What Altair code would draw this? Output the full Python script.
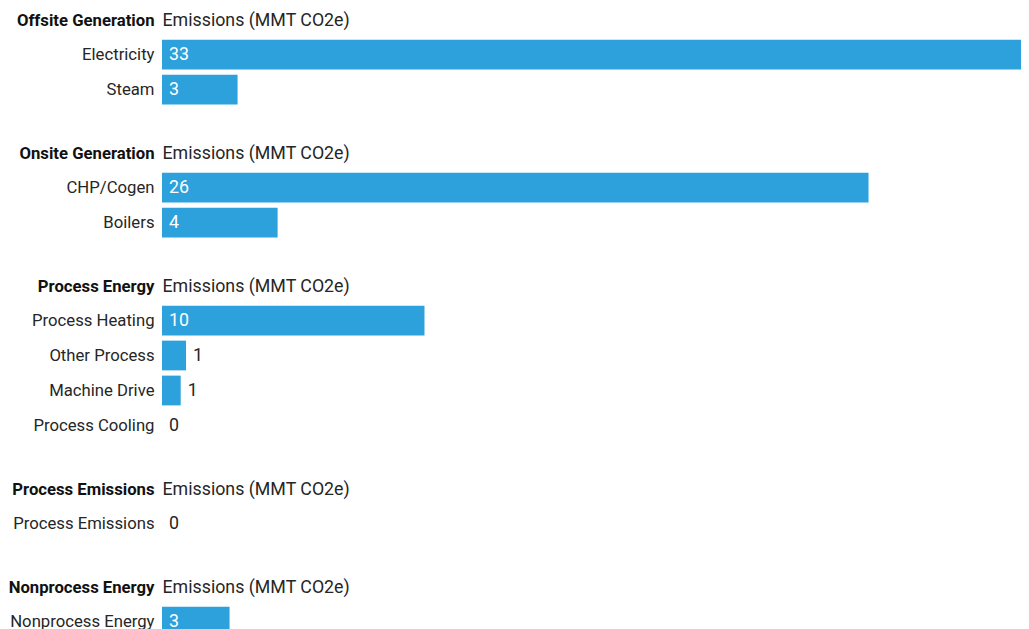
import altair as alt
import pandas as pd

groups = ["Offsite Generation", "Onsite Generation", "Process Energy",
          "Process Emissions", "Nonprocess Energy"]
group_items = [
    ["Electricity", "Steam"],
    ["CHP/Cogen", "Boilers"],
    ["Process Heating", "Other Process", "Machine Drive", "Process Cooling"],
    ["Process Emissions"],
    ["Nonprocess Energy"],
]
group_values = [
    [33.0, 2.83],
    [26.46, 4.33],
    [9.83, 0.90, 0.70, 0.0],
    [0.0],
    [2.53],
]
x_title = "Emissions (MMT CO2e)"
x_max = 32.17

FONT = "Roboto"
BAR = "#2ca1db"
LABEL = "#262626"
FS = 17.8
LFS = 16.7
HFS = 16.7


def panel(g, items, vals):
    df = pd.DataFrame({"item": items, "value": vals})
    base = alt.Chart(df)
    y_axis = alt.Axis(
        title=g, titleAngle=0, titleAlign="right", titleBaseline="middle",
        titleX=-8, titleY=-16.5, titleFontWeight="bold", titleFontSize=HFS,
        titleColor="#111111", titleFont=FONT,
        labelPadding=8, ticks=False, domain=False, labelFontSize=LFS,
        labelColor=LABEL, labelFont=FONT, labelLimit=300,
        minExtent=154, maxExtent=154,
    )
    y_scale = alt.Scale(paddingInner=0.15, paddingOuter=0.075)
    x_scale = alt.Scale(domain=[0, x_max], nice=False, zero=True)
    x_axis = alt.Axis(
        orient="top", title=x_title, labels=False, ticks=False,
        domain=False, grid=False, titleX=0, titleY=-16.5,
        titleAlign="left", titleBaseline="middle", titleAnchor="start",
        titleFontWeight="normal", titleFontSize=FS, titleColor=LABEL,
        titleFont=FONT)
    bars = base.mark_bar(color=BAR, clip=True).encode(
        x=alt.X("value:Q", scale=x_scale, axis=x_axis, title=x_title),
        y=alt.Y("item:N", sort=items, scale=y_scale, axis=y_axis, title=g),
    )
    texts = base.transform_calculate(
        pos="datum.value >= 1.5 ? 0 : datum.value"
    ).mark_text(align="left", baseline="middle", dx=7, fontSize=FS,
                font=FONT).encode(
        x=alt.X("pos:Q", scale=x_scale, axis=x_axis, title=x_title),
        y=alt.Y("item:N", sort=items, scale=y_scale, axis=y_axis, title=g),
        text=alt.Text("value:Q", format=".0f"),
        color=alt.condition("datum.value >= 1.5", alt.value("white"),
                            alt.value(LABEL)),
    )
    return alt.layer(bars, texts).properties(width=859, height=alt.Step(35))


panels = [panel(g, it, v) for g, it, v in zip(groups, group_items, group_values)]

chart = alt.vconcat(*panels, spacing=37).properties(
    padding={"top": 3, "left": 0, "right": 0, "bottom": 0}
).configure_view(stroke=None)

chart.save("out.html", embed_options={"renderer": "svg", "actions": False})
